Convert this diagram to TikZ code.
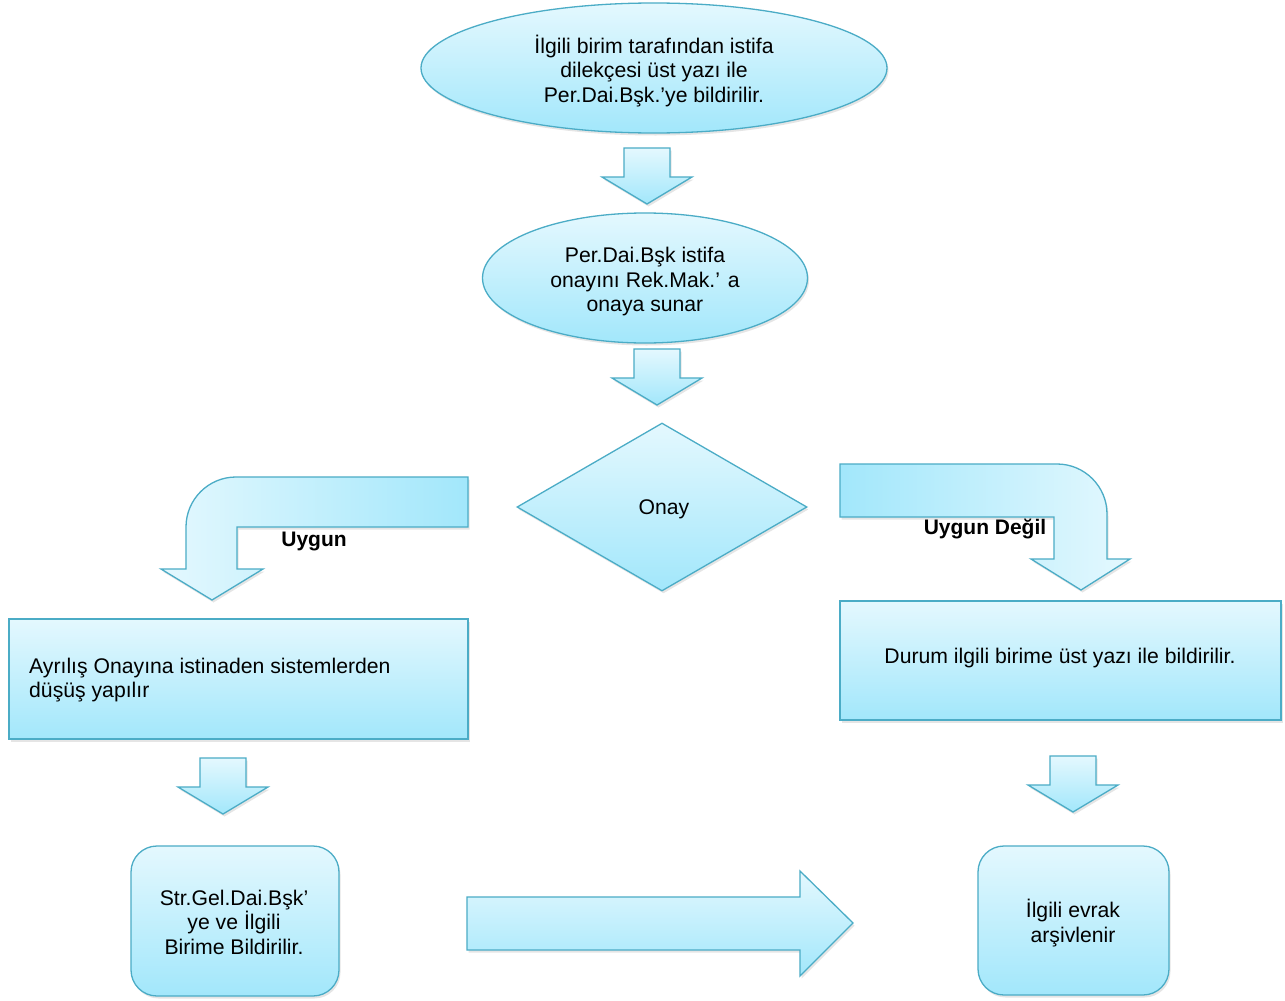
\documentclass[tikz,border=0pt]{standalone}
\usepackage{fontspec}
\setmainfont{Liberation Sans}
\usetikzlibrary{shapes.geometric,shadows}
\definecolor{topc}{RGB}{228,248,254}
\definecolor{botc}{RGB}{162,231,251}
\definecolor{edgec}{RGB}{75,172,198}
\tikzset{
  shad/.style={drop shadow={opacity=0.2, shadow xshift=1.5pt, shadow yshift=-2.5pt}},
  vfill/.style={top color=topc, bottom color=botc, draw=edgec, line width=1.3pt, shad},
  lrfill/.style={left color=topc, right color=botc, draw=edgec, line width=1.3pt, shad},
  rlfill/.style={left color=botc, right color=topc, draw=edgec, line width=1.3pt, shad},
  txt/.style={font=\fontsize{21.2}{24.5}\selectfont, text=black, align=center, inner sep=0pt},
  lbl/.style={font=\fontsize{21}{24.5}\selectfont\bfseries, text=black, inner sep=0pt},
  downarrow/.pic={
    \path[vfill] (-23,0) -- (23,0) -- (23,29) -- (45,29) -- (0,56) -- (-45,29) -- (-23,29) -- cycle;
  }
}
\begin{document}
\begin{tikzpicture}[x=1pt,y=-1pt]
\useasboundingbox[fill=white] (0,0) rectangle (1285,1001);

% top ellipse
\node[ellipse, vfill, minimum width=466pt, minimum height=130pt, inner sep=0pt] (e1) at (654,68) {};
\node[txt] (t1) at (654,71) {İlgili birim tarafından istifa\\dilekçesi üst yazı ile\\Per.Dai.Bşk.’ye bildirilir.};

\pic at (647,148) {downarrow};

% second ellipse
\node[ellipse, vfill, minimum width=325pt, minimum height=130pt, inner sep=0pt] (e2) at (645,278) {};
\node[txt] (t2) at (645,282) {Per.Dai.Bşk istifa\\onayını Rek.Mak.’ a\\onaya sunar};

\pic at (657,349) {downarrow};

% decision
\node[diamond, vfill, minimum width=290pt, minimum height=168pt, inner sep=0pt] (d) at (662,507) {};
\node[txt] (t3) at (664,509) {Onay};

% left bent arrow
\path[lrfill] (468,477) -- (236,477) .. controls (208.4,477) and (186,499.4) .. (186,527)
  -- (186,569) -- (161,569) -- (212,600) -- (263,569) -- (237,569) -- (237,527) -- (468,527) -- cycle;
\node[lbl] (uy) at (314,541) {Uygun};

% right bent arrow
\path[rlfill] (840,464) -- (1057,464) .. controls (1084.6,464) and (1107,486.4) .. (1107,514)
  -- (1107,559) -- (1130,559) -- (1081,590) -- (1031,559) -- (1054,559) -- (1054,517) -- (840,517) -- cycle;
\node[lbl] (ud) at (985,529) {Uygun Değil};

% left box
\path[vfill] (9,619) rectangle (468,739);
\node[txt, anchor=west, align=left] (t4) at (29,680) {Ayrılış Onayına istinaden sistemlerden\\düşüş yapılır};

% right box
\path[vfill] (840,601) rectangle (1281,720);
\node[txt] (t5) at (1060,658) {Durum ilgili birime üst yazı ile bildirilir.};

\pic at (223,758) {downarrow};
\pic at (1073,756) {downarrow};

% bottom rounded boxes
\path[vfill, rounded corners=26pt] (131,846) rectangle (339,996);
\node[txt] (t6) at (234,922) {Str.Gel.Dai.Bşk’\\ye ve İlgili\\Birime Bildirilir.};

\path[vfill, rounded corners=26pt] (978,846) rectangle (1169,995);
\node[txt] (t7) at (1073,923) {İlgili evrak\\arşivlenir};

% right block arrow
\path[vfill] (467,897) -- (800,897) -- (800,871) -- (853,923) -- (800,976) -- (800,950) -- (467,950) -- cycle;
\end{tikzpicture}
\end{document}
